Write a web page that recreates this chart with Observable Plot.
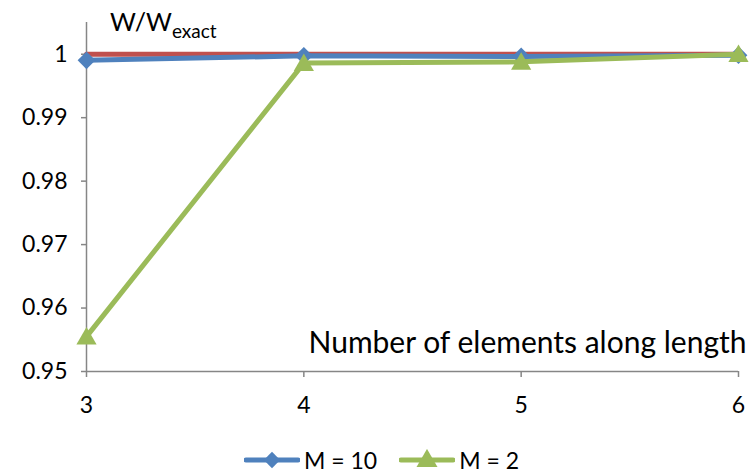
<!DOCTYPE html>
<html>
<head>
<meta charset="utf-8">
<script src="https://cdn.jsdelivr.net/npm/d3@7"></script>
<script src="https://cdn.jsdelivr.net/npm/@observablehq/plot@0.6"></script>
<style>
  html, body { margin: 0; padding: 0; background: #fff; }
  #wrap { width: 749px; height: 473px; position: relative; font-family: Lato, "Open Sans", sans-serif; }
  #legend { height: 43px; display: flex; justify-content: center; align-items: center; gap: 22px; font-size: 23px; color: #000; padding-left: 14px; padding-top: 16px; box-sizing: border-box; }
  .item { display: flex; align-items: center; gap: 4px; }
</style>
</head>
<body>
<div id="wrap">
  <div id="chart"></div>
  <div id="legend"></div>
</div>
<script>
const elements = [3, 4, 5, 6];
const seriesNames = ["Exact", "M = 10", "M = 2"];
const exactValues = [1, 1, 1, 1];
const m10Values = [0.9992, 0.9999, 0.9998, 1.0];
const m2Values = [0.9555, 0.9986, 0.9988, 1.0];
const yTicks = [0.95, 0.96, 0.97, 0.98, 0.99, 1];
const xTicks = [3, 4, 5, 6];
const colors = { "Exact": "#C0504D", "M = 10": "#4F81BD", "M = 2": "#9BBB59" };
const legendSeries = ["M = 10", "M = 2"];
const yLabel = ["W/W", "exact"];
const xLabel = "Number of elements along length";

const rows = [];
[exactValues, m10Values, m2Values].forEach((vals, s) => {
  vals.forEach((v, i) => rows.push({ series: seriesNames[s], x: elements[i], y: v }));
});
const sub = name => rows.filter(d => d.series === name);

const axisColor = "#868686";
const font = "Lato, 'Open Sans', sans-serif";

const chart = Plot.plot({
  width: 749,
  height: 430,
  marginLeft: 86,
  marginRight: 11,
  marginTop: 22,
  marginBottom: 59,
  style: { fontFamily: font, fontSize: "23px", color: "#000", background: "#fff" },
  x: { domain: [3, 6], label: null },
  y: { domain: [0.95, 1.005], label: null },
  marks: [
    Plot.axisX({ ticks: xTicks, tickSize: 6, tickPadding: 19, stroke: axisColor, strokeWidth: 1.5, strokeOpacity: 1, tickFormat: d => String(d), label: null, fontSize: 23 }),
    Plot.axisY({ ticks: yTicks, tickSize: 5, tickPadding: 14, stroke: axisColor, strokeWidth: 1.5, strokeOpacity: 1, tickFormat: d => String(d), label: null, fontSize: 23 }),
    Plot.ruleX([3], { stroke: axisColor, strokeWidth: 1.5 }),
    Plot.ruleY([0.95], { stroke: axisColor, strokeWidth: 1.5 }),
    Plot.line(sub("Exact"), { x: "x", y: "y", stroke: colors["Exact"], strokeWidth: 5 }),
    Plot.line(sub("M = 10"), { x: "x", y: "y", stroke: colors["M = 10"], strokeWidth: 5, dy: 1 }),
    Plot.dot(sub("M = 10"), { x: "x", y: "y", fill: colors["M = 10"], symbol: "diamond2", r: 8, dy: 1 }),
    Plot.line(sub("M = 2"), { x: "x", y: "y", stroke: colors["M = 2"], strokeWidth: 5 }),
    Plot.dot(sub("M = 2"), { x: "x", y: "y", fill: colors["M = 2"], symbol: "triangle", r: 7.5, dy: 2 }),
    Plot.text([xLabel], { frameAnchor: "bottom-right", dx: 8, dy: -19, fontSize: 30, fill: "#000", textAnchor: "end" })
  ]
});
document.getElementById("chart").appendChild(chart);

// y-axis title with subscript
const svg = d3.select(chart);
const t = svg.append("text")
  .attr("x", 110).attr("y", 31)
  .attr("text-anchor", "start")
  .attr("font-family", font).attr("font-size", 25).attr("fill", "#000");
t.append("tspan").text(yLabel[0]);
t.append("tspan").attr("font-size", 19).attr("dy", 7).text(yLabel[1]);

// legend
const legend = d3.select("#legend");
legendSeries.forEach(name => {
  const item = legend.append("div").attr("class", "item");
  const sw = item.append("svg").attr("width", 56).attr("height", 22);
  sw.append("line").attr("x1", 2).attr("x2", 54).attr("y1", 11).attr("y2", 11)
    .attr("stroke", colors[name]).attr("stroke-width", 5).attr("stroke-linecap", "round");
  if (name === "M = 10") {
    sw.append("path").attr("d", d3.symbol(d3.symbolDiamond2, 170)()).attr("transform", "translate(28,11)").attr("fill", colors[name]);
  } else {
    sw.append("path").attr("d", d3.symbol(d3.symbolTriangle, 190)()).attr("transform", "translate(28,12)").attr("fill", colors[name]);
  }
  item.append("span").text(name);
});
</script>
</body>
</html>
